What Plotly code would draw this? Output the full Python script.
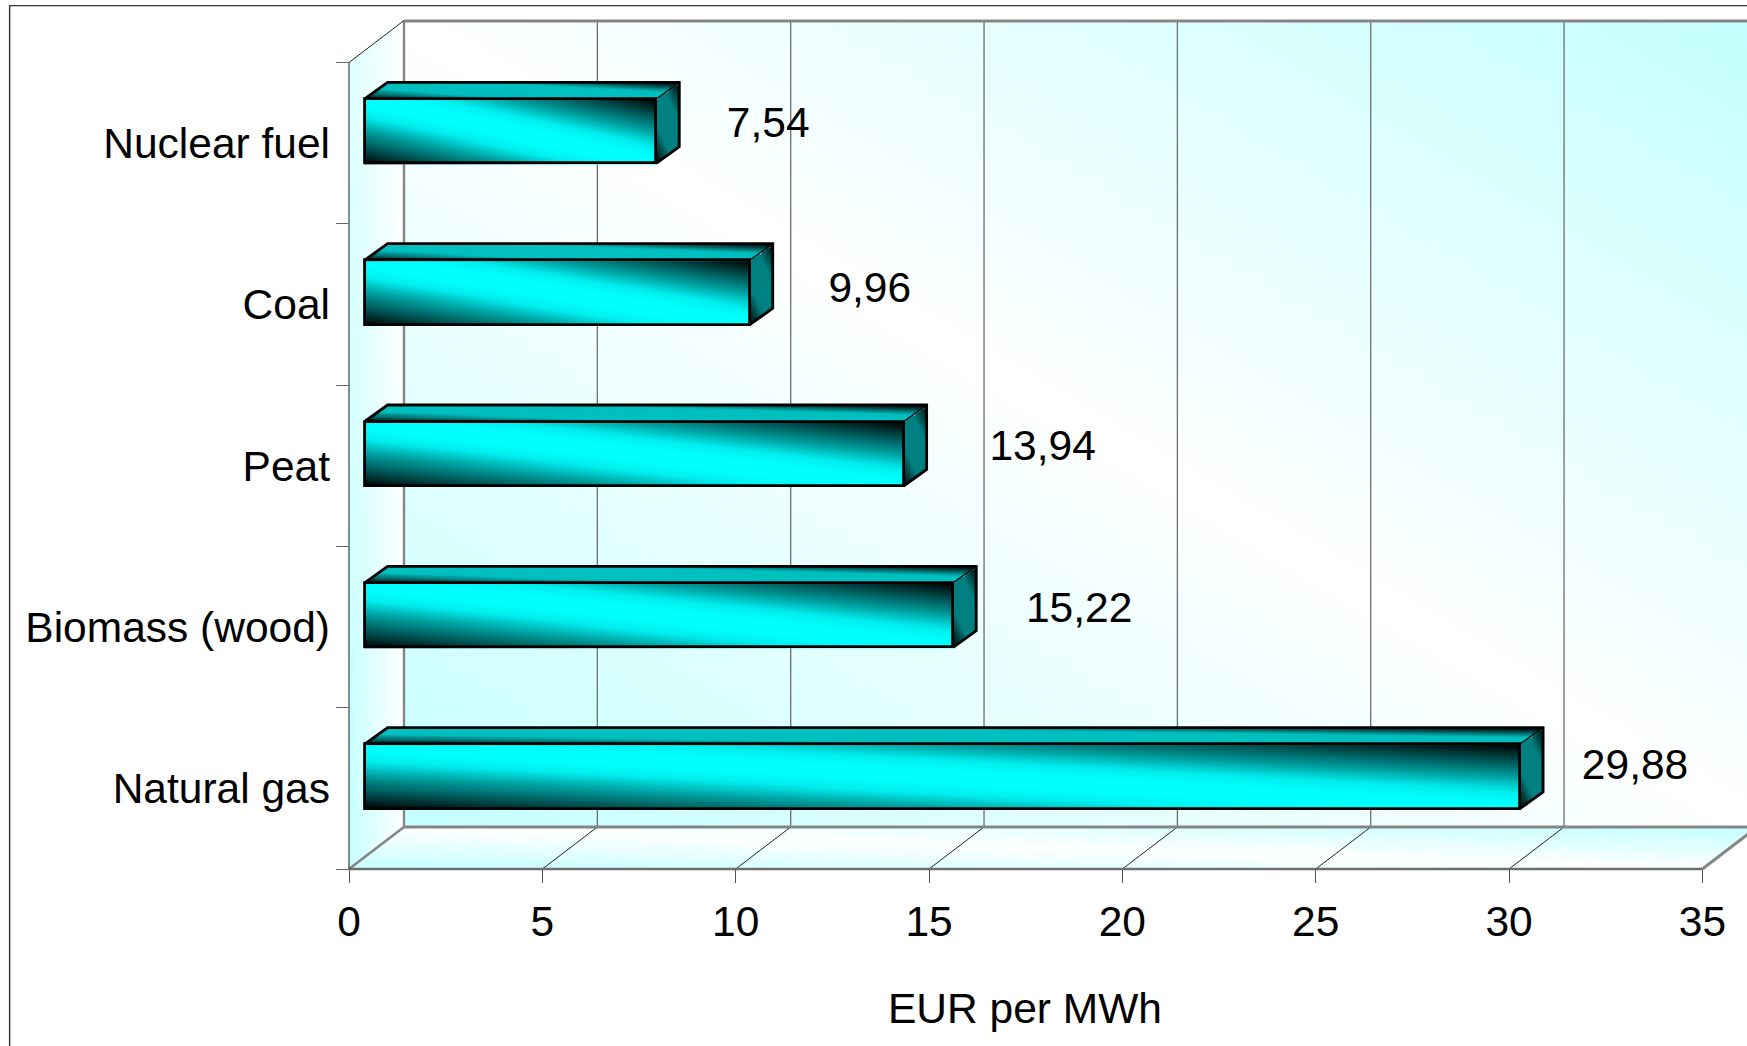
import numpy as np
import plotly.graph_objects as go

# ---------- data ----------
categories = ["Natural gas", "Biomass (wood)", "Peat", "Coal", "Nuclear fuel"]
values = [29.88, 15.22, 13.94, 9.96, 7.54]
x_ticks = [0, 5, 10, 15, 20, 25, 30, 35]
x_title = "EUR per MWh"

# ---------- geometry / style ----------
W, H = 1747, 1046
PX_X = 38.66          # pixels per EUR
PX_Y = 161.3          # pixels per category
ZERO_X, ZERO_Y, WALL_TOP_PX = 349.3, 869.0, 21.0
PAD = 8.0             # plot area reaches a little past the axes, so edge lines are not clipped
P_L, P_B, P_T = ZERO_X - PAD, ZERO_Y + PAD, WALL_TOP_PX - PAD
X_MIN, X_MAX = -PAD / PX_X, (W - ZERO_X) / PX_X
Y_BASE = -0.5
Y_MIN = Y_BASE - PAD / PX_Y
Y_MAX = Y_BASE + (ZERO_Y - P_T) / PX_Y
WALL_TOP = Y_BASE + (ZERO_Y - WALL_TOP_PX) / PX_Y
WALL_DX, WALL_DY = 55 / PX_X, 42 / PX_Y
BAR_SHIFT = 15.6 / PX_X
BAR_LIFT = 12 / PX_Y
BAR_H = 64.5 / PX_Y
BAR_DX, BAR_DY = 23 / PX_X, 16.5 / PX_Y
LABEL_DX = [115 / PX_X, 126 / PX_X, 139 / PX_X, 120 / PX_X, 112 / PX_X]
LABEL_DY = [19.5 / PX_Y, 15.5 / PX_Y, 16 / PX_Y, 13.5 / PX_Y, 16.5 / PX_Y]
FONT = "Liberation Sans"
FS = 42.5
GREY = "#858585"

CS_WALL = [[0, "#ffffff"], [1, "#c4ffff"]]
CS_FRONT = [[0, "#000000"], [0.12, "#004d4d"], [0.25, "#009c9c"], [0.37, "#00eeee"], [0.45, "#00ffff"],
            [0.55, "#00ffff"], [0.63, "#00eeee"], [0.75, "#009c9c"], [0.88, "#004d4d"], [1, "#000000"]]
CS_TOP = [[0, "#000000"], [0.3, "#00bfbf"], [0.7, "#00bfbf"], [1, "#000000"]]
CS_SIDE = [[0, "#000000"], [0.3, "#008080"], [0.7, "#008080"], [1, "#000000"]]


def patch(x0, x1, y0, y1, shear_x, shear_y, dx, dy, cs, axes, zfun=None):
    """Gradient parallelogram: (x0..x1, y0..y1) rectangle sheared by depth."""
    nx = max(int((x1 - x0 + dx) * PX_X / 1.5), 8)
    ny = max(int((y1 - y0 + dy) * PX_Y / 1.0), 8)
    xs = np.linspace(x0, x1 + dx, nx)
    ys = np.linspace(y0, y1 + dy, ny)
    X, Y = np.meshgrid(xs, ys)
    if shear_x:   # top / floor: depth runs with y
        v = (Y - y0) / (dy if dy else 1)
        u = (X - x0 - dx * v) / (x1 - x0)
    elif shear_y:  # side / left wall: depth runs with x
        u = (X - x0) / (dx if dx else 1)
        v = (Y - y0 - dy * u) / (y1 - y0)
    else:
        u = (X - x0) / (x1 - x0)
        v = (Y - y0) / (y1 - y0)
    z = zfun(u, v) if zfun else (u + v) / 2
    z = z.astype(float)
    z[(u < -0.001) | (u > 1.001) | (v < -0.001) | (v > 1.001)] = np.nan
    return go.Heatmap(x=xs, y=ys, z=z, zmin=0, zmax=1, colorscale=cs, zsmooth="best",
                      showscale=False, hoverinfo="skip", xaxis=axes[0], yaxis=axes[1])


def line(xs, ys, color, width, axes=("x", "y")):
    return go.Scatter(x=xs, y=ys, mode="lines", line=dict(color=color, width=width),
                      hoverinfo="skip", showlegend=False, cliponaxis=False,
                      xaxis=axes[0], yaxis=axes[1])


diag = lambda u, v: np.abs(u + v - 1)
traces = []
back = ("x", "y")
front = ("x2", "y2")

# walls
top_front = len(categories) - 0.5
x35 = x_ticks[-1]
traces.append(patch(WALL_DX, x35 + WALL_DX, Y_BASE + WALL_DY, WALL_TOP, 0, 0, 0, 0, CS_WALL, back, diag))
traces.append(patch(0, WALL_DX, Y_BASE, top_front, 0, 1, WALL_DX, WALL_DY, CS_WALL, back,
                    lambda u, v: (1 - u) * (1 - 0.45 * v)))
traces.append(patch(0, x35, Y_BASE, Y_BASE, 1, 0, WALL_DX, WALL_DY, CS_WALL, back, diag))

# gridlines on back wall, floor diagonals
gx, gy, fx, fy = [], [], [], []
for k in x_ticks[1:]:
    gx += [k + WALL_DX, k + WALL_DX, None]
    gy += [Y_BASE + WALL_DY, WALL_TOP, None]
for k in x_ticks[1:-1]:
    fx += [k, k + WALL_DX, None]
    fy += [Y_BASE, Y_BASE + WALL_DY, None]
traces.append(line(gx, gy, "#6e6e6e", 1.3))
traces.append(line(fx, fy, "#222222", 1))
# wall edges
traces.append(line([WALL_DX, WALL_DX], [Y_BASE + WALL_DY, WALL_TOP], GREY, 2.4))
traces.append(line([WALL_DX, X_MAX], [WALL_TOP, WALL_TOP], GREY, 3))
traces.append(line([WALL_DX, X_MAX], [Y_BASE + WALL_DY, Y_BASE + WALL_DY], GREY, 3))
traces.append(line([0, WALL_DX], [Y_BASE, Y_BASE + WALL_DY], GREY, 2.6))
traces.append(line([x35, x35 + WALL_DX], [Y_BASE, Y_BASE + WALL_DY], GREY, 3))
traces.append(line([0, x35], [Y_BASE, Y_BASE], "#6e6e6e", 2.4))
traces.append(line([0, 0], [Y_BASE, top_front], "#222222", 1))
traces.append(line([0, WALL_DX], [top_front, top_front + WALL_DY], "#222222", 1))

# bars: gradient faces
for i, v in enumerate(values):
    x0, x1 = BAR_SHIFT, BAR_SHIFT + v
    y0 = i + BAR_LIFT - BAR_H / 2
    y1 = y0 + BAR_H
    traces.append(patch(x0, x1, y0, y1, 0, 0, 0, 0, CS_FRONT, front))
    traces.append(patch(x0, x1, y1, y1, 1, 0, BAR_DX, BAR_DY, CS_TOP, front))
    traces.append(patch(x1, x1, y0, y1, 0, 1, BAR_DX, BAR_DY, CS_SIDE, front,
                        lambda u, w: (u + w) / 2))

# bars: real bar trace gives the front outline
traces.append(go.Bar(x=values, y=list(range(len(values))), base=BAR_SHIFT, orientation="h",
                     width=BAR_H, offset=BAR_LIFT - BAR_H / 2,
                     marker=dict(color="rgba(0,255,255,0)", line=dict(color="#000000", width=2.8)),
                     hovertemplate="%{x}<extra></extra>", showlegend=False,
                     xaxis="x2", yaxis="y2"))
for i, v in enumerate(values):
    x0, x1 = BAR_SHIFT, BAR_SHIFT + v
    y0 = i + BAR_LIFT - BAR_H / 2
    y1 = y0 + BAR_H
    traces.append(line([x0, x0 + BAR_DX, x1 + BAR_DX, x1 + BAR_DX, x1],
                       [y1, y1 + BAR_DY, y1 + BAR_DY, y0 + BAR_DY, y0], "#000000", 2.8, front))
    traces.append(line([x1, x1 + BAR_DX], [y1, y1 + BAR_DY], "#000000", 1.2, front))

# value labels
traces.append(go.Scatter(
    x=[BAR_SHIFT + v + d for v, d in zip(values, LABEL_DX)],
    y=[i + d for i, d in enumerate(LABEL_DY)],
    text=[f"{v:.2f}".replace(".", ",") for v in values],
    mode="text", textfont=dict(family=FONT, size=FS, color="#000000"), textposition="middle center",
    hoverinfo="skip", showlegend=False, cliponaxis=False, xaxis="x2", yaxis="y2"))

paper_y = lambda py: (P_B - py) / (P_B - P_T)
paper_x = lambda px: (px - P_L) / (W - P_L)

fig = go.Figure(traces)
fig.update_layout(
    width=W, height=H, autosize=False,
    margin=dict(l=P_L, r=0, t=P_T, b=H - P_B, pad=0),
    paper_bgcolor="#ffffff", plot_bgcolor="#ffffff",
    font=dict(family=FONT, size=FS, color="#000000"),
    showlegend=False, bargap=0,
    xaxis=dict(range=[X_MIN, X_MAX], anchor="free", position=paper_y(ZERO_Y),
               tickmode="array", tickvals=x_ticks, ticks="outside", ticklen=13,
               tickwidth=1.4, tickcolor="#555555", showgrid=False, zeroline=False, showline=False,
               ticklabelstandoff=2, tickfont=dict(family=FONT, size=FS)),
    yaxis=dict(range=[Y_MIN, Y_MAX], anchor="free", position=paper_x(ZERO_X),
               tickmode="array", tickvals=list(range(len(categories))),
               ticktext=categories, ticks="", showgrid=False, zeroline=False, showline=False,
               ticklabelstandoff=19, tickfont=dict(family=FONT, size=FS),
               minor=dict(tickmode="array", tickvals=[i - 0.5 for i in range(len(categories) + 1)],
                          ticks="outside", ticklen=13, tickwidth=1.4, tickcolor="#666666", showgrid=False)),
    xaxis2=dict(range=[X_MIN, X_MAX], overlaying="x", visible=False),
    yaxis2=dict(range=[Y_MIN, Y_MAX], overlaying="y", visible=False),
    shapes=[dict(type="rect", xref="paper", yref="paper", x0=paper_x(10),
                 x1=1.02, y0=-0.3, y1=paper_y(5.6),
                 line=dict(color="#333333", width=1.4), fillcolor="rgba(0,0,0,0)", layer="below")],
    annotations=[dict(text=x_title, xref="x", yref="paper", x=(1025.5 - ZERO_X) / PX_X,
                      y=paper_y(1008), showarrow=False, xanchor="center",
                      yanchor="middle", font=dict(family=FONT, size=FS, color="#000000"))],
)
fig.write_html("out.html", config=dict(displayModeBar=False),
               post_script="document.body.style.margin='0';")
